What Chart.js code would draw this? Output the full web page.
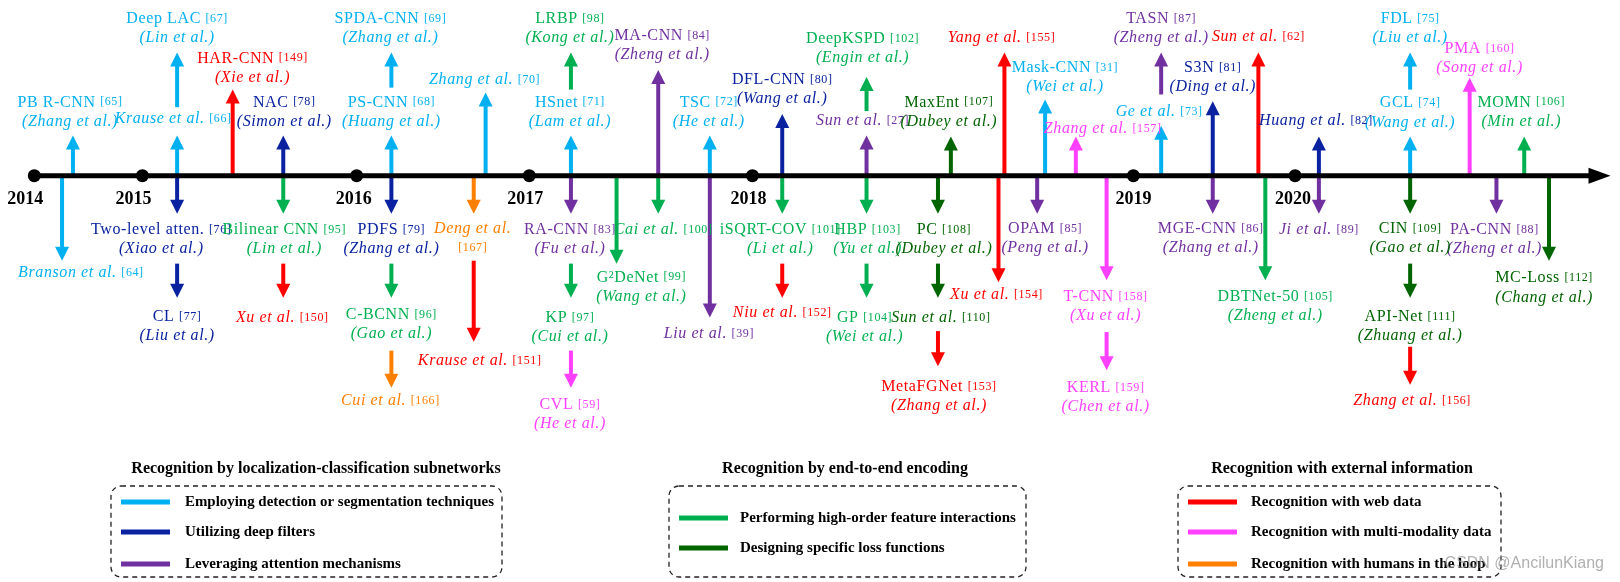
<!DOCTYPE html>
<html>
<head>
<meta charset="utf-8">
<script src="https://cdn.jsdelivr.net/npm/chart.js@4/dist/chart.umd.min.js"></script>
<style>
  html, body { margin: 0; background: #fff; }
  #wrap { width: 1620px; height: 582px; }
</style>
</head>
<body>
<div id="wrap"><canvas id="timeline"></canvas></div>
<script>
// timeline units: x = position along the time axis, y = vertical level (0 = top)
const axisLevel = 173;
const axisEnd = 1617;
const yearLabels = ['2014', '2015', '2016', '2017', '2018', '2019', '2020'];
const yearPos = [28, 137, 353, 527, 752, 1136, 1299];
const yearLabelPos = [19, 128, 350, 523, 748, 1136, 1297];
const yearLabelLevel = 197;

const groupTitles = [
    'Recognition by localization-classification subnetworks',
    'Recognition by end-to-end encoding',
    'Recognition with external information'
];
const categories = [
    'Employing detection or segmentation techniques',
    'Utilizing deep filters',
    'Leveraging attention mechanisms',
    'Performing high-order feature interactions',
    'Designing specific loss functions',
    'Recognition with web data',
    'Recognition with multi-modality data',
    'Recognition with humans in the loop'
];
const categoryGroup = [0, 0, 0, 1, 1, 2, 2, 2];
const categoryColors = ['#00B0F0', '#0A22A0', '#7030A0', '#00B050', '#006400', '#FF0000', '#FF40FF', '#FF7F00'];

// arrows: [position, from level, to level (tip)]
const detectionArrows = [[67, 173, 132], [172, 103, 47], [172, 173, 132], [388, 83, 47], [388, 173, 132],
    [483, 173, 88], [569, 173, 132], [709, 173, 132], [1047, 173, 95], [1164, 173, 122],
    [1415, 85, 47], [1415, 173, 133], [56, 173, 260]];
const filterArrows = [[279, 173, 132], [782, 173, 110], [1216, 173, 97], [1323, 173, 133],
    [172, 173, 212], [172, 263, 298], [388, 173, 212]];
const attentionArrows = [[657, 173, 65], [867, 173, 132], [1164, 90, 47], [569, 173, 212], [709, 173, 318],
    [1039, 173, 212], [1216, 173, 212], [1323, 173, 212], [1502, 173, 212]];
const highOrderArrows = [[569, 85, 47], [867, 107, 72], [1530, 173, 133], [279, 173, 212], [388, 263, 298],
    [569, 263, 298], [615, 173, 263], [657, 173, 212], [782, 173, 212], [867, 173, 212], [867, 263, 298],
    [1269, 173, 280]];
const lossArrows = [[952, 173, 133], [939, 173, 212], [939, 263, 298], [1415, 173, 212], [1415, 263, 298],
    [1555, 173, 260]];
const webArrows = [[228, 173, 85], [1006, 173, 47], [1262, 173, 47], [279, 263, 298], [471, 260, 343],
    [782, 263, 298], [939, 332, 368], [1000, 173, 282], [1415, 348, 387]];
const modalityArrows = [[1078, 173, 133], [1475, 173, 73], [569, 352, 390], [1109, 173, 280], [1109, 333, 372]];
const humanArrows = [[471, 175, 212], [388, 352, 390]];

// labels: [position, level, method name, ref, first author, ref on own line]
const detectionLabels = [[64, 98, 'PB R-CNN', 65, 'Zhang'], [172, 13, 'Deep LAC', 67, 'Lin'],
    [168, 115, null, 66, 'Krause'], [75, 272, null, 64, 'Branson'], [387, 13, 'SPDA-CNN', 69, 'Zhang'],
    [388, 98, 'PS-CNN', 68, 'Huang'], [482, 75, null, 70, 'Zhang'], [568, 98, 'HSnet', 71, 'Lam'],
    [708, 98, 'TSC', 72, 'He'], [1067, 63, 'Mask-CNN', 31, 'Wei'], [1162, 108, null, 73, 'Ge'],
    [1415, 13, 'FDL', 75, 'Liu'], [1415, 99, 'GCL', 74, 'Wang']];
const filterLabels = [[280, 98, 'NAC', 78, 'Simon'], [156, 228, 'Two-level atten.', 76, 'Xiao'],
    [172, 317, 'CL', 77, 'Liu'], [388, 228, 'PDFS', 79, 'Zhang'], [782, 75, 'DFL-CNN', 80, 'Wang'],
    [1216, 63, 'S3N', 81, 'Ding'], [1320, 117, null, 82, 'Huang']];
const attentionLabels = [[661, 30, 'MA-CNN', 84, 'Zheng'], [863, 117, null, 27, 'Sun'],
    [1164, 13, 'TASN', 87, 'Zheng'], [568, 228, 'RA-CNN', 83, 'Fu'], [708, 335, null, 39, 'Liu'],
    [1047, 227, 'OPAM', 85, 'Peng'], [1214, 227, 'MGE-CNN', 86, 'Zhang'], [1323, 228, null, 89, 'Ji'],
    [1500, 228, 'PA-CNN', 88, 'Zheng']];
const highOrderLabels = [[568, 13, 'LRBP', 98, 'Kong'], [863, 33, 'DeepKSPD', 102, 'Engin'],
    [1527, 98, 'MOMN', 106, 'Min'], [280, 228, 'Bilinear CNN', 95, 'Lin'], [388, 315, 'C-BCNN', 96, 'Gao'],
    [568, 318, 'KP', 97, 'Cui'], [640, 277, 'G²DeNet', 99, 'Wang'], [662, 228, null, 100, 'Cai'],
    [780, 228, 'iSQRT-COV', 101, 'Li'], [868, 228, 'HBP', 103, 'Yu'], [865, 318, 'GP', 104, 'Wei'],
    [1279, 297, 'DBTNet-50', 105, 'Zheng']];
const lossLabels = [[950, 98, 'MaxEnt', 107, 'Dubey'], [945, 228, 'PC', 108, 'Dubey'],
    [942, 318, null, 110, 'Sun'], [1415, 227, 'CIN', 109, 'Gao'], [1415, 317, 'API-Net', 111, 'Zhuang'],
    [1550, 278, 'MC-Loss', 112, 'Chang']];
const webLabels = [[248, 53, 'HAR-CNN', 149, 'Xie'], [1003, 32, null, 155, 'Yang'], [1262, 31, null, 62, 'Sun'],
    [278, 318, null, 150, 'Xu'], [477, 362, null, 151, 'Krause'], [782, 313, null, 152, 'Niu'],
    [940, 389, 'MetaFGNet', 153, 'Zhang'], [998, 295, null, 154, 'Xu'], [1417, 403, null, 156, 'Zhang']];
const modalityLabels = [[1105, 125, null, 157, 'Zhang'], [1485, 43, 'PMA', 160, 'Song'],
    [568, 407, 'CVL', 59, 'He'], [1108, 297, 'T-CNN', 158, 'Xu'], [1108, 390, 'KERL', 159, 'Chen']];
const humanLabels = [[470, 227, null, 167, 'Deng', true], [387, 403, null, 166, 'Cui']];

const allArrows = [detectionArrows, filterArrows, attentionArrows, highOrderArrows, lossArrows,
    webArrows, modalityArrows, humanArrows];
const allLabels = [detectionLabels, filterLabels, attentionLabels, highOrderLabels, lossLabels,
    webLabels, modalityLabels, humanLabels];

const SERIF = '"Liberation Serif", "Times New Roman", serif';
const NAME_FONT = '16px ' + SERIF;
const REF_FONT = '12px ' + SERIF;
const BY_FONT = 'italic 16px ' + SERIF;
const LINE_GAP = 19.5;

function drawArrow(ctx, x, y0, y1, color) {
    let dir = y1 > y0 ? 1 : -1;
    let head = 14, half = 7;
    ctx.strokeStyle = color;
    ctx.fillStyle = color;
    ctx.lineWidth = 4;
    ctx.beginPath();
    ctx.moveTo(x, y0);
    ctx.lineTo(x, y1 - dir * (head - 1));
    ctx.stroke();
    ctx.beginPath();
    ctx.moveTo(x, y1);
    ctx.lineTo(x - half, y1 - dir * head);
    ctx.lineTo(x + half, y1 - dir * head);
    ctx.closePath();
    ctx.fill();
}

// draws a line made of [text, font] runs, centred on x
function drawRuns(ctx, x, y, runs) {
    ctx.letterSpacing = '0.6px';
    let total = 0;
    runs.forEach(r => { ctx.font = r[1]; total += ctx.measureText(r[0]).width; });
    let left = x - total / 2;
    ctx.textAlign = 'left';
    ctx.textBaseline = 'middle';
    runs.forEach(r => {
        ctx.font = r[1];
        ctx.fillText(r[0], left, y);
        left += ctx.measureText(r[0]).width;
    });
    ctx.letterSpacing = '0px';
}

function drawLabel(ctx, xs, ys, item, color) {
    let [pos, level, name, ref, by, wrap] = item;
    let x = xs.getPixelForValue(pos);
    let y1 = ys.getPixelForValue(level);
    let y2 = ys.getPixelForValue(level + LINE_GAP);
    let refText = '[' + ref + ']';
    ctx.fillStyle = color;
    if (name) {
        drawRuns(ctx, x, y1, [[name + ' ', NAME_FONT], [refText, REF_FONT]]);
        drawRuns(ctx, x, y2, [['(' + by + ' et al.)', BY_FONT]]);
    } else if (wrap) {
        drawRuns(ctx, x, y1, [[by + ' et al.', BY_FONT]]);
        drawRuns(ctx, x, y2, [[refText, REF_FONT]]);
    } else {
        drawRuns(ctx, x, y1, [[by + ' et al. ', BY_FONT], [refText, REF_FONT]]);
    }
}

function drawLegend(ctx) {
    let boxes = [[111, 502, 316], [669, 1026, 845], [1178, 1501, 1342]];
    let rows = [[502, 532, 564], [518, 548], [502, 532, 564]];
    let textOffset = [74, 71, 73];
    let top = 486, bottom = 577, r = 10;
    boxes.forEach((b, g) => {
        ctx.fillStyle = '#000';
        ctx.font = 'bold 16px ' + SERIF;
        ctx.textAlign = 'center';
        ctx.textBaseline = 'middle';
        ctx.fillText(groupTitles[g], b[2], 469, b[1] - b[0] + 4);

        ctx.save();
        ctx.setLineDash([5, 4]);
        ctx.lineWidth = 1.3;
        ctx.strokeStyle = '#222';
        ctx.beginPath();
        ctx.roundRect(b[0], top, b[1] - b[0], bottom - top, r);
        ctx.stroke();
        ctx.restore();

        let k = 0;
        categories.forEach((c, i) => {
            if (categoryGroup[i] !== g) return;
            let y = rows[g][k++];
            ctx.strokeStyle = categoryColors[i];
            ctx.lineWidth = 5;
            ctx.beginPath();
            ctx.moveTo(b[0] + 10, y);
            ctx.lineTo(b[0] + 59, y);
            ctx.stroke();
            ctx.fillStyle = '#000';
            ctx.font = 'bold 15px ' + SERIF;
            ctx.textAlign = 'left';
            ctx.fillText(c, b[0] + textOffset[g], y, b[1] - b[0] - textOffset[g] - 8);
        });
    });
}

const timelinePlugin = {
    id: 'timeline',
    beforeDatasetsDraw(chart) {
        let ctx = chart.ctx, xs = chart.scales.x, ys = chart.scales.y;
        ctx.save();
        chart.data.datasets.forEach(ds => {
            if (!ds.arrows) return;
            ds.data.forEach(p => drawArrow(ctx, xs.getPixelForValue(p.x),
                ys.getPixelForValue(p.from), ys.getPixelForValue(p.y), ds.borderColor));
        });
        ctx.restore();
    },
    afterDatasetsDraw(chart) {
        let ctx = chart.ctx, xs = chart.scales.x, ys = chart.scales.y;
        ctx.save();
        // axis arrow head
        let tip = xs.getPixelForValue(axisEnd), ay = ys.getPixelForValue(axisLevel);
        ctx.fillStyle = '#000';
        ctx.beginPath();
        ctx.moveTo(tip, ay);
        ctx.lineTo(tip - 22, ay - 8);
        ctx.lineTo(tip - 22, ay + 8);
        ctx.closePath();
        ctx.fill();

        ctx.font = 'bold 18px ' + SERIF;
        ctx.textAlign = 'center';
        ctx.textBaseline = 'middle';
        yearLabels.forEach((t, i) => {
            ctx.fillText(t, xs.getPixelForValue(yearLabelPos[i]), ys.getPixelForValue(yearLabelLevel));
        });

        allLabels.forEach((list, i) => list.forEach(item => drawLabel(ctx, xs, ys, item, categoryColors[i])));

        drawLegend(ctx);

        ctx.font = '16px "Liberation Sans", Arial, sans-serif';
        ctx.fillStyle = 'rgba(150, 150, 150, 0.75)';
        ctx.textAlign = 'right';
        ctx.fillText('CSDN @AncilunKiang', 1604, 564);
        ctx.restore();
    }
};

let datasets = [
    {
        data: yearPos.map(x => ({x: x, y: axisLevel})),
        pointRadius: 6.5,
        pointBackgroundColor: '#000',
        pointBorderWidth: 0
    },
    {
        data: [{x: yearPos[0], y: axisLevel}, {x: axisEnd - 18, y: axisLevel}],
        showLine: true,
        borderColor: '#000',
        borderWidth: 5,
        pointRadius: 0
    }
];
allArrows.forEach((list, i) => datasets.push({
    label: categories[i],
    arrows: true,
    borderColor: categoryColors[i],
    pointRadius: 0,
    data: list.map(a => ({x: a[0], y: a[2], from: a[1]}))
}));

new Chart(document.getElementById('timeline'), {
    type: 'scatter',
    data: {datasets: datasets},
    options: {
        responsive: true,
        maintainAspectRatio: false,
        animation: false,
        events: [],
        layout: {padding: 0},
        scales: {
            x: {type: 'linear', min: 0, max: 1620, display: false},
            y: {type: 'linear', min: 0, max: 582, reverse: true, display: false}
        },
        plugins: {legend: {display: false}, tooltip: {enabled: false}}
    },
    plugins: [timelinePlugin]
});
</script>
</body>
</html>
